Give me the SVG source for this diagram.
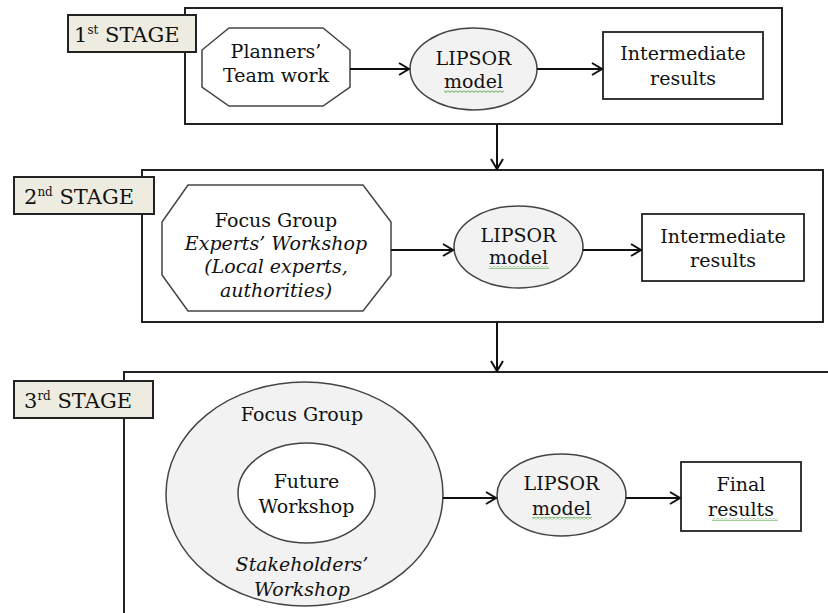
<svg xmlns="http://www.w3.org/2000/svg" width="828" height="613" viewBox="0 0 828 613">
<style>
.frame{fill:#fff;stroke:#222;stroke-width:2}
.label{fill:#eeece1;stroke:#222;stroke-width:2}
.oct{fill:#fff;stroke:#444;stroke-width:1.5}
.ell{fill:#f2f2f2;stroke:#444;stroke-width:1.5}
.box{fill:#fff;stroke:#222;stroke-width:1.8}
.t{font-family:"DejaVu Serif","Liberation Serif",serif;font-size:19px;fill:#111;text-anchor:middle}
.tl{font-family:"DejaVu Serif","Liberation Serif",serif;font-size:21px;fill:#111}
.i{font-style:italic}
.sup{font-size:12px}
.conn{stroke:#111;stroke-width:2;fill:none}
</style>
<defs>
<marker id="arr" markerUnits="userSpaceOnUse" markerWidth="14" markerHeight="16" refX="11" refY="7" orient="auto">
<path d="M1,1 L11,7 L1,13" fill="none" stroke="#111" stroke-width="2"/>
</marker>
<pattern id="squig" patternUnits="userSpaceOnUse" width="4" height="3">
<path d="M0,0.5 L2,2.5 L4,0.5" fill="none" stroke="#3f9a30" stroke-width="1"/>
</pattern>
</defs>
<rect width="828" height="613" fill="#fff"/>

<g id="stage1">
<rect class="frame" x="185" y="8" width="597" height="116"/>
<rect class="label" x="68" y="15" width="128" height="37"/>
<text class="tl" x="74" y="42">1<tspan class="sup" dy="-8">st</tspan><tspan dy="8"> STAGE</tspan></text>
</g>
<g id="stage2">
<rect class="frame" x="142" y="170" width="681" height="152"/>
<rect class="label" x="14" y="177" width="140" height="37"/>
<text class="tl" x="24" y="204">2<tspan class="sup" dy="-8">nd</tspan><tspan dy="8"> STAGE</tspan></text>
</g>
<g id="stage3">
<rect class="frame" x="124" y="372" width="720" height="260"/>
<rect class="label" x="14" y="381" width="139" height="37"/>
<text class="tl" x="24" y="408">3<tspan class="sup" dy="-8">rd</tspan><tspan dy="8"> STAGE</tspan></text>
</g>

<g id="planners">
<polygon class="oct" points="229,28 323,28 350,50 350,87 323,106 229,106 202,87 202,50"/>
<text class="t" x="276" y="58">Planners’</text>
<text class="t" x="276" y="82">Team work</text>
</g>
<g id="lipsor1">
<ellipse class="ell" cx="473.5" cy="69" rx="63.5" ry="41"/>
<text class="t" x="473.5" y="65">LIPSOR</text>
<text class="t" x="473.5" y="88">model</text>
<rect x="444" y="90" width="60" height="3" fill="url(#squig)"/>
</g>
<g id="inter1">
<rect class="box" x="603" y="32" width="160" height="67"/>
<text class="t" x="683" y="60">Intermediate</text>
<text class="t" x="683" y="85">results</text>
</g>

<g id="focus2">
<polygon class="oct" points="188,185 363,185 391,222 391,275 363,311 188,311 162,275 162,222"/>
<text class="t" x="276" y="227">Focus Group</text>
<text class="t i" x="276" y="250">Experts’ Workshop</text>
<text class="t i" x="276" y="273">(Local experts,</text>
<text class="t i" x="276" y="297">authorities)</text>
</g>
<g id="lipsor2">
<ellipse class="ell" cx="518.5" cy="247" rx="64.5" ry="41"/>
<text class="t" x="518.5" y="242">LIPSOR</text>
<text class="t" x="518.5" y="264">model</text>
<rect x="489" y="266" width="60" height="3" fill="url(#squig)"/>
</g>
<g id="inter2">
<rect class="box" x="642" y="214" width="162" height="67"/>
<text class="t" x="723" y="243">Intermediate</text>
<text class="t" x="723" y="267">results</text>
</g>

<g id="focus3">
<ellipse class="ell" cx="304.5" cy="494" rx="138.5" ry="112"/>
<text class="t" x="302" y="421">Focus Group</text>
<text class="t i" x="302" y="571">Stakeholders’</text>
<text class="t i" x="302" y="596">Workshop</text>
</g>
<g id="future">
<ellipse cx="306.5" cy="493" rx="68.5" ry="50" fill="#fff" stroke="#444" stroke-width="1.5"/>
<text class="t" x="306.5" y="488">Future</text>
<text class="t" x="306.5" y="513">Workshop</text>
</g>
<g id="lipsor3">
<ellipse class="ell" cx="561.5" cy="495" rx="64.5" ry="41"/>
<text class="t" x="561.5" y="490">LIPSOR</text>
<text class="t" x="561.5" y="515">model</text>
<rect x="532" y="517" width="60" height="3" fill="url(#squig)"/>
</g>
<g id="final">
<rect class="box" x="681" y="462" width="120" height="69"/>
<text class="t" x="741" y="491">Final</text>
<text class="t" x="741" y="516">results</text>
<rect x="712" y="518" width="66" height="3" fill="url(#squig)"/>
</g>

<g id="connectors">
<line class="conn" x1="350" y1="69" x2="409" y2="69" marker-end="url(#arr)"/>
<line class="conn" x1="537" y1="69" x2="602" y2="69" marker-end="url(#arr)"/>
<line class="conn" x1="497" y1="124" x2="497" y2="169" marker-end="url(#arr)"/>
<line class="conn" x1="391" y1="250" x2="453" y2="250" marker-end="url(#arr)"/>
<line class="conn" x1="583" y1="250" x2="641" y2="250" marker-end="url(#arr)"/>
<line class="conn" x1="497" y1="322" x2="497" y2="371" marker-end="url(#arr)"/>
<line class="conn" x1="443" y1="498" x2="496" y2="498" marker-end="url(#arr)"/>
<line class="conn" x1="626" y1="498" x2="680" y2="498" marker-end="url(#arr)"/>
</g>
</svg>
